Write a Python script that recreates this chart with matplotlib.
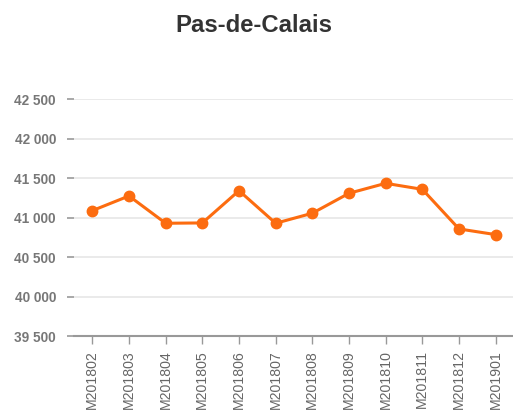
import matplotlib
matplotlib.use("Agg")
import matplotlib.pyplot as plt
from matplotlib.ticker import FuncFormatter

categories = ["M201802", "M201803", "M201804", "M201805", "M201806", "M201807",
              "M201808", "M201809", "M201810", "M201811", "M201812", "M201901"]
values = [41089, 41275, 40929, 40933, 41342, 40929, 41056, 41309, 41435, 41359, 40857, 40785]
yticks = [39500, 40000, 40500, 41000, 41500, 42000, 42500]
title = "Pas-de-Calais"

plt.rcParams['font.family'] = ['Liberation Sans', 'DejaVu Sans']

fig = plt.figure(figsize=(5.13, 4.13), dpi=100)
W, H = 513, 413
left, right, top, bottom = 74, 514, 99.3, 336
ax = fig.add_axes([left / W, (H - bottom) / H, (right - left) / W, (bottom - top) / H])

x = list(range(len(categories)))
color = '#fc6c10'
ax.plot(x, values, color=color, lw=2.2, marker='o', ms=7.5, mec=color, mfc=color, zorder=3, clip_on=False)

ax.set_xlim(-0.5, len(categories) - 0.5)
ax.set_ylim(yticks[0], yticks[-1])
ax.set_yticks(yticks)
ax.yaxis.set_major_formatter(FuncFormatter(lambda v, p: f"{int(v):,}".replace(",", " ")))
ax.set_xticks(x)
ax.set_xticklabels(categories, rotation=90, fontsize=10.2, color='#666666')

for lab in ax.get_yticklabels():
    lab.set_fontweight('bold')
    lab.set_color('#777777')
    lab.set_fontsize(9.8)

ax.grid(axis='y', color='#e6e6e6', lw=1.2)
ax.set_axisbelow(True)
for s in ['top', 'right', 'left']:
    ax.spines[s].set_visible(False)
ax.spines['bottom'].set_color('#999999')
ax.spines['bottom'].set_linewidth(1.5)
ax.tick_params(axis='y', length=5, color='#999999', width=1.2, pad=8)
ax.tick_params(axis='x', length=6, color='#999999', width=1, pad=4)

fig.text(254 / W, 1 - 25 / H, title, ha='center', va='center', fontsize=17.2,
         fontweight='bold', color='#333333')

fig.savefig('out.png', dpi=100)
